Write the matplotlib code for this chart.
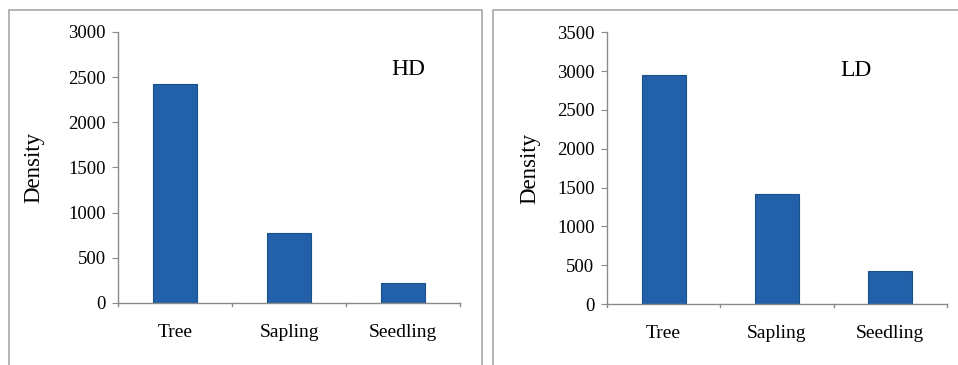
import matplotlib.pyplot as plt
from matplotlib.patches import Rectangle

categories = ['Tree', 'Sapling', 'Seedling']
hd_density = [2420, 770, 220]
ld_density = [2950, 1415, 430]

plt.rcParams['font.family'] = ['Liberation Serif', 'DejaVu Serif']

BAR_COLOR = '#2260a9'
EDGE_COLOR = '#1b4f8c'
AXIS_COLOR = '#8a8a8a'


def draw_panel(ax, values, ymax, step, tag, tag_x, label_pad):
    x = range(len(values))
    ax.bar(x, values, width=0.39, color=BAR_COLOR, edgecolor=EDGE_COLOR, linewidth=0.8)
    ax.set_xlim(-0.5, len(values) - 0.5)
    ax.set_ylim(0, ymax)
    ax.set_yticks(range(0, ymax + 1, step))
    ax.set_xticks(x)
    ax.set_xticklabels(categories, fontsize=14)
    ax.tick_params(axis='x', length=0, pad=15)
    ax.tick_params(axis='y', length=4, color=AXIS_COLOR, labelsize=13.5, pad=5)
    # category boundary ticks on the x-axis
    for b in [i - 0.5 for i in range(len(values) + 1)]:
        ax.plot([b, b], [0, -ymax * 0.012], color=AXIS_COLOR, lw=1, clip_on=False)
    for side in ['top', 'right']:
        ax.spines[side].set_visible(False)
    for side in ['left', 'bottom']:
        ax.spines[side].set_color(AXIS_COLOR)
        ax.spines[side].set_linewidth(1)
    ax.set_ylabel('Density', fontsize=16.5, labelpad=label_pad)
    ax.text(tag_x, ymax * 0.86, tag, fontsize=17, ha='center', va='center')


fig = plt.figure(figsize=(9.58, 3.65), dpi=100)

# outer frames around each panel
fig.patches.append(Rectangle((9 / 958, -0.05), 473 / 958, 1.05 - 10 / 365,
                             transform=fig.transFigure, fill=False,
                             edgecolor='#a8a8a8', lw=1.2))
fig.patches.append(Rectangle((493 / 958, -0.05), 0.6, 1.05 - 10 / 365,
                             transform=fig.transFigure, fill=False,
                             edgecolor='#a8a8a8', lw=1.2))

ax1 = fig.add_axes([0.1232, 0.170, 0.357, 0.7425])
draw_panel(ax1, hd_density, 3000, 500, 'HD', 2.05, 17)

ax2 = fig.add_axes([0.6336, 0.167, 0.3549, 0.7445])
draw_panel(ax2, ld_density, 3500, 500, 'LD', 1.7, 12)

fig.savefig('out.png', dpi=100)
